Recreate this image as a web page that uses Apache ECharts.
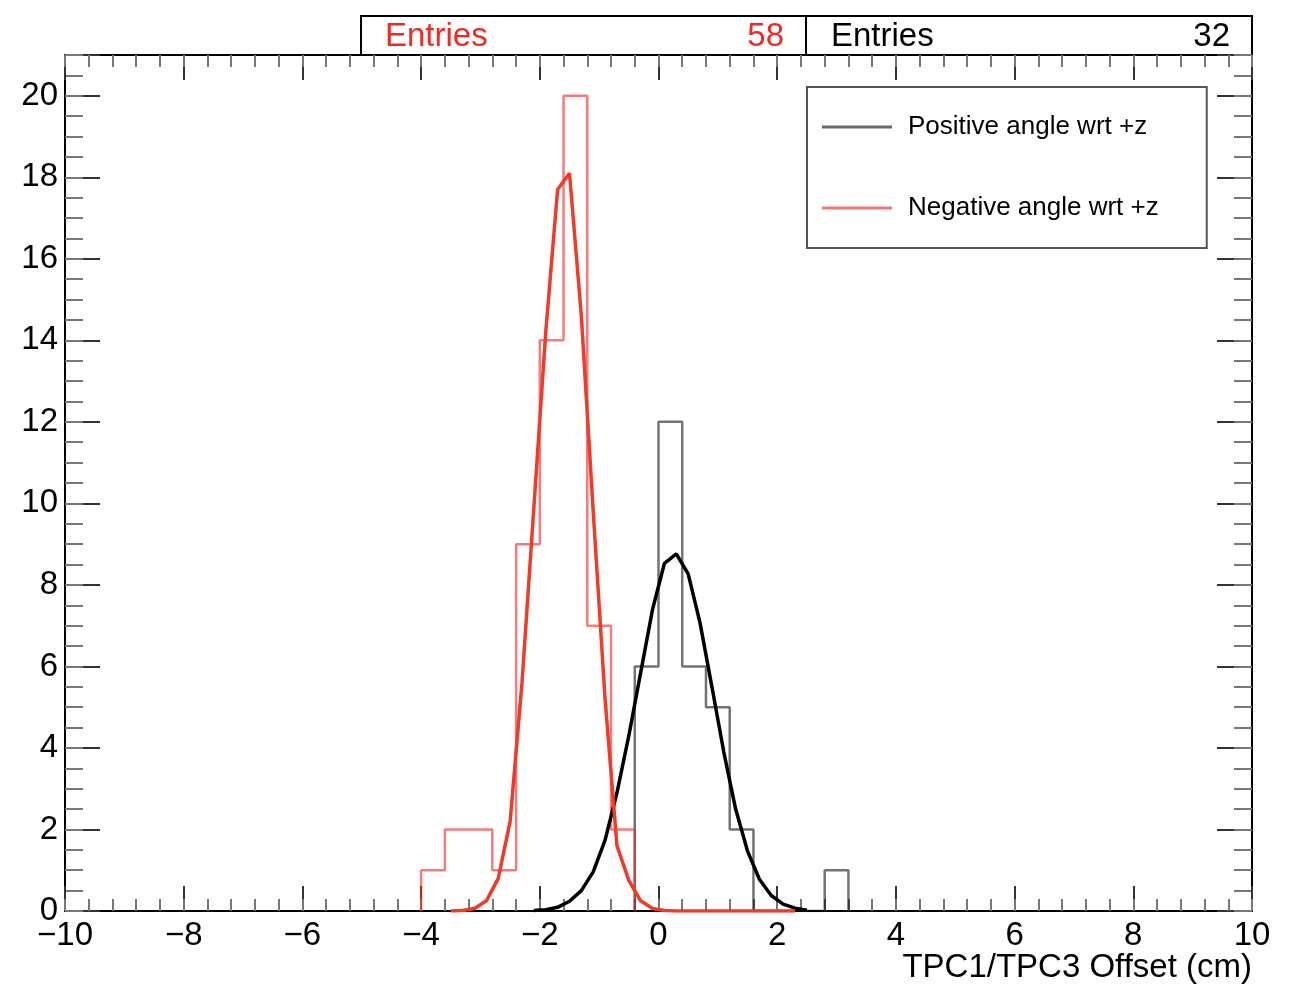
<!DOCTYPE html>
<html>
<head>
<meta charset="utf-8">
<script src="https://cdn.jsdelivr.net/npm/echarts@6/dist/echarts.min.js"></script>
<style>html,body{margin:0;padding:0;background:#fff}#c{width:1298px;height:984px}</style>
</head>
<body>
<div id="c"></div>
<script>
// ---- data ----
const binWidth = 0.4;
const redBinLow   = [-4.0, -3.6, -3.2, -2.8, -2.4, -2.0, -1.6, -1.2, -0.8];
const redCounts   = [1, 2, 2, 1, 9, 14, 20, 7, 2];
const blackBinLow = [-0.4, 0.0, 0.4, 0.8, 1.2, 1.6, 2.0, 2.4, 2.8];
const blackCounts = [6, 12, 6, 5, 2, 0, 0, 0, 1];

const redFitX = [-3.5,-3.3,-3.1,-2.9,-2.7,-2.5,-2.3,-2.1,-1.9,-1.7,-1.5,-1.3,-1.1,-0.9,-0.7,-0.5,-0.3,-0.1,0.1,0.3,0.5,0.7,0.9,1.1,1.3,1.5,1.7,1.9,2.1,2.3];
const redFitY = [0.0,0.01,0.06,0.25,0.8,2.2,5.6,9.9,14.2,17.7,18.1,14.6,9.8,5.2,1.6,0.75,0.25,0.06,0.01,0,0,0,0,0,0,0,0,0,0,0];
const blackFitX = [-2.1,-1.9,-1.7,-1.5,-1.3,-1.1,-0.9,-0.7,-0.5,-0.3,-0.1,0.1,0.3,0.5,0.7,0.9,1.1,1.3,1.5,1.7,1.9,2.1,2.3,2.5];
const blackFitY = [0.01,0.03,0.09,0.24,0.5,0.96,1.74,2.9,4.3,5.85,7.4,8.53,8.76,8.27,7.07,5.5,3.9,2.5,1.47,0.78,0.38,0.17,0.07,0.02];

const redEntries = 58, blackEntries = 32;
const posLabel = 'Positive angle wrt +z';
const negLabel = 'Negative angle wrt +z';
const xTitle = 'TPC1/TPC3 Offset (cm)';

// ---- build step outlines from bins ----
function stepPoints(lows, counts, w) {
  const pts = [[lows[0], 0]];
  for (let i = 0; i < lows.length; i++) {
    pts.push([lows[i], counts[i]]);
    pts.push([lows[i] + w, counts[i]]);
  }
  pts.push([lows[lows.length - 1] + w, 0]);
  return pts;
}
function zip(xs, ys) { return xs.map((x, i) => [x, ys[i]]); }

const FONT = 'Liberation Sans, Arial, Helvetica, sans-serif';
const minus = v => (v < 0 ? '\u2212' + Math.abs(v) : String(v));

function xAx(pos, major, showLabel) {
  return {
    type: 'value', position: pos, min: -10, max: 10, interval: major ? 2 : 0.4,
    axisLine: { show: major, onZero: false, lineStyle: { color: '#000', width: 2 } },
    axisTick: { show: true, inside: true, length: major ? 25 : 12,
      lineStyle: { color: major ? '#333' : '#777', width: 2 } },
    axisLabel: { show: showLabel, fontSize: 33, color: '#000', fontFamily: FONT, margin: 8,
      formatter: minus },
    splitLine: { show: false }
  };
}
function yAx(pos, major, showLabel) {
  return {
    type: 'value', position: pos, min: 0, max: 21, interval: major ? 2 : 0.5,
    axisLine: { show: major, onZero: false, lineStyle: { color: '#000', width: 2 } },
    axisTick: { show: true, inside: true, length: major ? 35 : 18,
      lineStyle: { color: major ? '#333' : '#777', width: 2 } },
    axisLabel: { show: showLabel, fontSize: 33, color: '#000', fontFamily: FONT, margin: 7,
      formatter: v => (v > 20 ? '' : String(v)) },
    splitLine: { show: false }
  };
}

const chart = echarts.init(document.getElementById('c'));
chart.setOption({
  animation: false,
  backgroundColor: '#fff',
  grid: { left: 65, right: 46, top: 55, bottom: 73, containLabel: false, outerBoundsMode: 'none' },
  xAxis: [
    xAx('bottom', true, true),
    xAx('bottom', false, false),
    xAx('top', true, false),
    xAx('top', false, false)
  ],
  yAxis: [yAx('left', true, true), yAx('left', false, false), yAx('right', true, false), yAx('right', false, false)],
  legend: {
    orient: 'vertical', left: 807, top: 87, selectedMode: false,
    data: [posLabel, negLabel], icon: 'rect', itemWidth: 70, itemHeight: 3, itemGap: 55,
    padding: [27, 48, 27, 15], borderColor: '#555', borderWidth: 2,
    textStyle: { fontSize: 26, color: '#000', fontFamily: FONT, padding: [0, 0, 0, 11] }
  },
  graphic: [
    { type: 'rect', shape: { x: 361, y: 16, width: 445, height: 39 },
      style: { fill: '#fff', stroke: '#000', lineWidth: 2 } },
    { type: 'rect', shape: { x: 806, y: 16, width: 446, height: 39 },
      style: { fill: '#fff', stroke: '#000', lineWidth: 2 } },
    { type: 'text', x: 385, y: 37, style: { text: 'Entries', fill: '#ee2a22', font: '33px ' + FONT, verticalAlign: 'middle' } },
    { type: 'text', x: 784, y: 37, style: { text: String(redEntries), fill: '#ee2a22', font: '33px ' + FONT, align: 'right', verticalAlign: 'middle' } },
    { type: 'text', x: 831, y: 37, style: { text: 'Entries', fill: '#000', font: '33px ' + FONT, verticalAlign: 'middle' } },
    { type: 'text', x: 1230, y: 37, style: { text: String(blackEntries), fill: '#000', font: '33px ' + FONT, align: 'right', verticalAlign: 'middle' } },
    { type: 'text', x: 1252, y: 968, style: { text: xTitle, fill: '#000', font: '33px ' + FONT, align: 'right', verticalAlign: 'middle' } }
  ],
  series: [
    { name: posLabel, type: 'line', data: stepPoints(blackBinLow, blackCounts, binWidth),
      showSymbol: false, lineStyle: { color: 'rgba(0,0,0,0.55)', width: 2.5 },
      itemStyle: { color: '#6a6a6a' }, z: 3 },
    { name: negLabel, type: 'line', data: stepPoints(redBinLow, redCounts, binWidth),
      showSymbol: false, lineStyle: { color: 'rgba(235,45,45,0.62)', width: 2.5 },
      itemStyle: { color: '#f07878' }, z: 4 },
    { name: 'fitPos', type: 'line', data: zip(blackFitX, blackFitY), showSymbol: false,
      lineStyle: { color: '#000', width: 3.5 }, z: 5 },
    { name: 'fitNeg', type: 'line', data: zip(redFitX, redFitY), showSymbol: false,
      lineStyle: { color: '#f03a2a', width: 3.5 }, z: 6 }
  ]
});
</script>
</body>
</html>
